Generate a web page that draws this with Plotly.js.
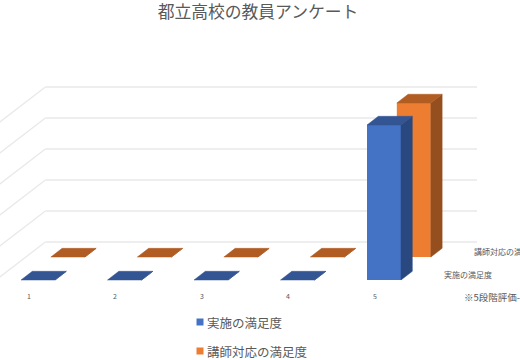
<!DOCTYPE html>
<html><head><meta charset="utf-8">
<script src="https://cdn.plot.ly/plotly-3.0.1.min.js"></script>
<style>html,body{margin:0;padding:0;background:#fff;overflow:hidden}</style>
</head><body><div id="chart" style="width:520px;height:360px"></div>
<script>
const categories = [1, 2, 3, 4, 5];
const seriesA = [0, 0, 0, 0, 5];
const seriesB = [0, 0, 0, 0, 4.97];
const gridValues = [0, 1, 2, 3, 4, 5];
const nameA = '実施の満足度';
const nameB = '講師対応の満足度';
const chartTitle = '都立高校の教員アンケート';
const noteText = '※5段階評価-最高';

const W = 520, H = 360, pxX = 86.5, pxY = 31, x0 = 29, y0 = 280;
const dx = 11.3 / pxX, dy = 8.7 / pxY;       // oblique shift for one bar depth
const barLeft = -8 / pxX, barW = 34 / pxX;
const depthB = 2.64, depthWall = 4.37;
const font = 'Noto Sans CJK JP, Noto Sans, sans-serif';
const txt = '#595959', grid = '#e9e9e9';
const wallStart = 1 + (-4 - x0) / pxX, wallEnd = 1 + (477 - x0) / pxX;

function faces(vals, depth, topColor, sideColor, name) {
  const ox = depth * dx, oy = depth * dy;
  const tx = [], ty = [], sx = [], sy = [];
  categories.forEach((c, i) => {
    const l = c + barLeft + ox, r = l + barW, v = vals[i] + oy;
    tx.push(l, r, r + dx, l + dx, l, null);
    ty.push(v, v, v + dy, v + dy, v, null);
    sx.push(r, r + dx, r + dx, r, r, null);
    sy.push(oy, oy + dy, v + dy, v, oy, null);
  });
  const poly = (x, y, color, part) => ({type: 'scatter', mode: 'lines', x, y, fill: 'toself',
    fillcolor: color, line: {color, width: 0.5}, hoverinfo: 'skip', showlegend: false, name: name + part});
  return [poly(sx, sy, sideColor, ' side'), poly(tx, ty, topColor, ' top')];
}
function front(vals, depth, color, name) {
  return {type: 'bar', x: categories, y: vals, name, width: barW,
    offset: barLeft + depth * dx, base: depth * dy,
    marker: {color, line: {width: 0}}, showlegend: false};
}

const data = [
  front(seriesB, depthB, '#ED7D31', nameB),
  front(seriesA, 0, '#4472C4', nameA),
  ...faces(seriesB, depthB, '#B15C22', '#954E1E', nameB),
  ...faces(seriesA, 0, '#335593', '#2A4880', nameA)
];

const shapes = [];
gridValues.forEach(v => {
  const wx = wallStart + depthWall * dx, wy = v + depthWall * dy;
  const line = {color: grid, width: 1.3};
  shapes.push({type: 'line', layer: 'below', xref: 'x', yref: 'y', x0: wallStart, y0: v, x1: wx, y1: wy, line});
  shapes.push({type: 'line', layer: 'below', xref: 'x', yref: 'y', x0: wx, y0: wy, x1: wallEnd, y1: wy, line});
});
const swatch = (xp, yp, color) => ({type: 'rect', xref: 'paper', yref: 'paper',
  x0: (xp - 3.5) / W, x1: (xp + 3.5) / W, y0: 1 - (yp + 3.5) / H, y1: 1 - (yp - 3.5) / H,
  fillcolor: color, line: {width: 0}});
shapes.push(swatch(200, 322, '#4472C4'), swatch(200, 351, '#ED7D31'));

const note = (text, xp, yp, size) => ({text, xref: 'paper', yref: 'paper',
  x: xp / W, y: 1 - yp / H, xanchor: 'left', yanchor: 'middle', showarrow: false,
  xshift: 0, font: {family: font, size, color: txt}});
const annotations = [
  note(nameA, 205, 322, 12.5), note(nameB, 205, 351, 12.5),
  note(nameA, 442, 274, 8), note(nameB, 472, 252, 8), note(noteText, 462, 297, 9.5),
  ...categories.map(c => ({text: String(c), xref: 'x', yref: 'paper', x: c - 0.5 / pxX, y: 1 - 296 / H,
    xanchor: 'center', yanchor: 'middle', showarrow: false, font: {family: font, size: 7, color: txt}}))
];

Plotly.newPlot('chart', data, {
  width: W, height: H, margin: {l: 0, r: 0, t: 0, b: 0},
  paper_bgcolor: '#fff', plot_bgcolor: '#fff', showlegend: false, barmode: 'overlay',
  title: {text: chartTitle, x: 258 / W, xanchor: 'center', y: 1 - 12 / H, yanchor: 'middle',
    font: {family: font, size: 16.8, color: txt}},
  xaxis: {range: [1 - x0 / pxX, 1 + (W - x0) / pxX], visible: false, fixedrange: true},
  yaxis: {range: [(y0 - H) / pxY, y0 / pxY], visible: false, fixedrange: true},
  shapes, annotations
}, {displayModeBar: false, staticPlot: true});
</script></body></html>
